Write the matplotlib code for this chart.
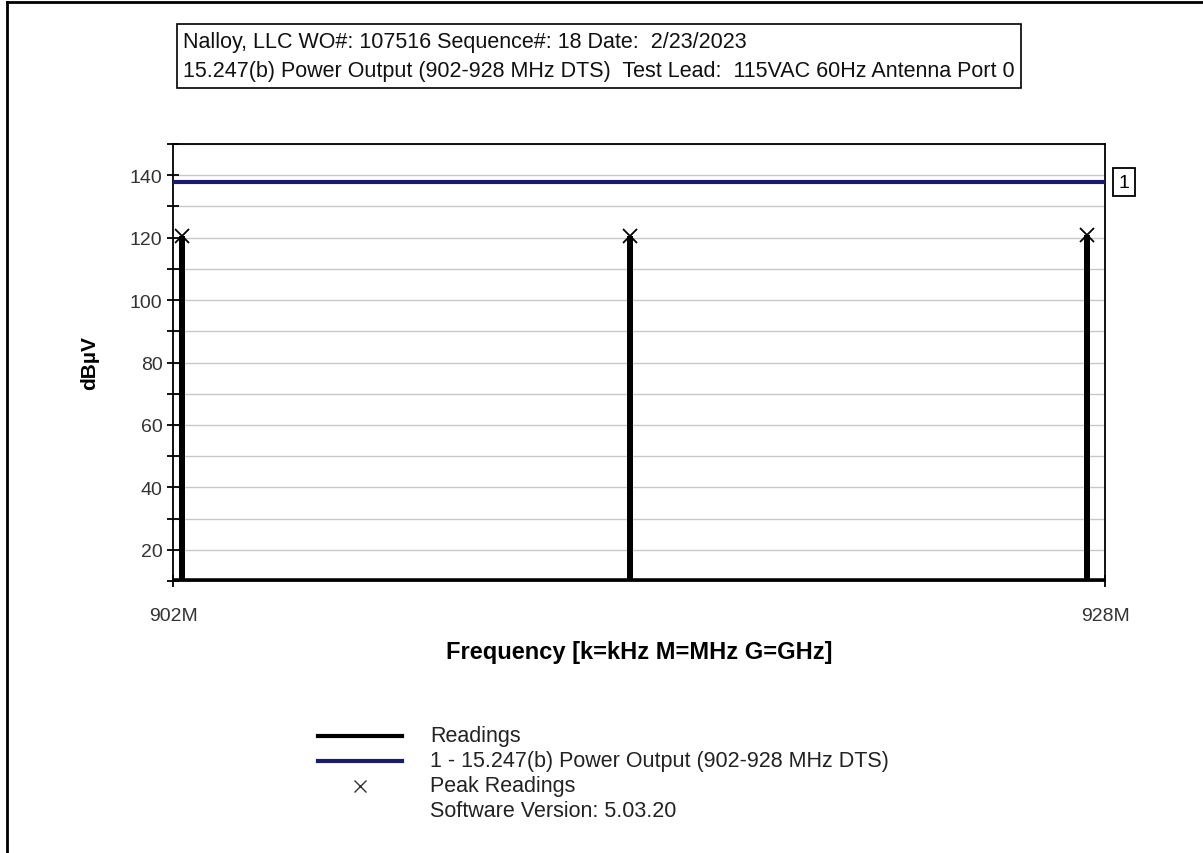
import numpy as np
import matplotlib
matplotlib.use("Agg")
from matplotlib import pyplot as plt
from matplotlib.lines import Line2D

plt.rcParams['font.family'] = ['Liberation Sans', 'DejaVu Sans']

# data
peak_freqs = [902.25, 914.75, 927.5]      # MHz
peak_levels = [120.6, 120.6, 120.8]       # dBuV
floor_level = 10.0                        # readings sit on the bottom of the plot
limit_freqs = [902.0, 928.0]
limit_levels = [137.8, 137.8]
ytick_major = [20, 40, 60, 80, 100, 120, 140]
xtick_vals = [902, 928]
xtick_labels = ["902M", "928M"]

title_lines = ["Nalloy, LLC WO#: 107516 Sequence#: 18 Date:  2/23/2023",
               "15.247(b) Power Output (902-928 MHz DTS)  Test Lead:  115VAC 60Hz Antenna Port 0"]
legend_labels = ["Readings", "1 - 15.247(b) Power Output (902-928 MHz DTS)",
                 "Peak Readings", "Software Version: 5.03.20"]

# build the readings trace: floor with a spike at each peak
rx = [limit_freqs[0]]
ry = [floor_level]
for f, p in zip(peak_freqs, peak_levels):
    rx += [f, f, f]
    ry += [floor_level, p, floor_level]
rx.append(limit_freqs[1])
ry.append(floor_level)

fig = plt.figure(figsize=(12.03, 8.54), dpi=100)
ax = fig.add_axes([173/1203, 1-582/854, (1105-173)/1203, (582-145)/854])

ax.set_xlim(902, 928)
ax.set_ylim(10, 150)
ax.set_yticks(ytick_major)
ax.set_yticks(np.arange(10, 151, 20), minor=True)
ax.set_xticks(xtick_vals)
ax.set_xticklabels(xtick_labels)
ax.grid(True, which='both', axis='y', color='#c8c8c8', lw=1.0)
ax.set_axisbelow(True)

ax.plot(rx, ry, color='black', lw=4, solid_joinstyle='miter', zorder=3)
ax.plot(limit_freqs, limit_levels, color='#1a1a6e', lw=3, zorder=4)
ax.plot(peak_freqs, peak_levels, 'x', color='black', ms=10, mew=1.3, zorder=5)

for s in ax.spines.values():
    s.set_linewidth(1.3)
ax.tick_params(axis='y', which='both', direction='inout', length=9, width=1.3, labelsize=14, pad=3)
ax.tick_params(axis='x', direction='inout', length=9, width=1.3, labelsize=14, pad=14)
for lab in ax.get_yticklabels() + ax.get_xticklabels():
    lab.set_color('#333333')

ax.set_ylabel("dBµV", fontsize=15, fontweight='bold', labelpad=22)
ax.set_xlabel("Frequency [k=kHz M=MHz G=GHz]", fontsize=17, fontweight='bold', labelpad=12)

# limit line number tag
ax.text(1.0145, (limit_levels[1]-10)/140, "1", transform=ax.transAxes, fontsize=14,
        va='center', ha='left',
        bbox=dict(boxstyle='square,pad=0.3', fc='white', ec='black', lw=1.3))

# title box
fig.text(183/1203, 1-57/854, "\n".join(title_lines), fontsize=15.5, va='center', ha='left',
         linespacing=1.55, color='#111111',
         bbox=dict(boxstyle='square,pad=0.3', fc='white', ec='black', lw=1.2))

# legend at bottom
rows_y = [737, 762, 787, 812]
fig.add_artist(Line2D([318/1203, 402/1203], [1-rows_y[0]/854]*2, color='black', lw=3))
fig.add_artist(Line2D([318/1203, 402/1203], [1-rows_y[1]/854]*2, color='#1a1a6e', lw=3))
fig.add_artist(Line2D([360/1203], [1-rows_y[2]/854], marker='x', color='#333333', ms=9, mew=1.0))
for yy, lab in zip(rows_y, legend_labels):
    fig.text(430/1203, 1-yy/854, lab, fontsize=15.5, va='center', ha='left', color='#222222')

# outer frame (left and top edges)
fig.add_artist(Line2D([7/1203, 7/1203], [0, 1-3/854], color='black', lw=2))
fig.add_artist(Line2D([7/1203, 1], [1-3/854, 1-3/854], color='black', lw=2))

fig.savefig("out.png", dpi=100)
